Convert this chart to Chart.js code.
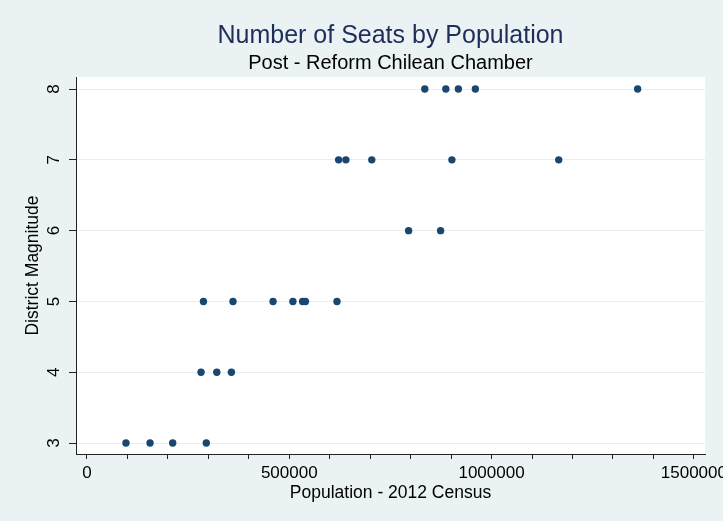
<!DOCTYPE html>
<html>
<head>
<meta charset="utf-8">
<script src="https://cdn.jsdelivr.net/npm/chart.js@4"></script>
<style>
  html, body { margin: 0; padding: 0; background: #eaf2f3; }
  #c { display: block; }
</style>
</head>
<body>
<canvas id="c" width="723" height="521"></canvas>
<script>
// ---- data ----
const chartTitle = "Number of Seats by Population";
const chartSubtitle = "Post - Reform Chilean Chamber";
const xAxisTitle = "Population - 2012 Census";
const yAxisTitle = "District Magnitude";

const population = [
  96500, 156000, 212000, 295000,
  282000, 321000, 357000,
  288000, 361000, 460000, 509000, 533000, 540000, 618000,
  795000, 874000,
  622000, 640000, 704000, 902000, 1166000,
  835000, 887000, 918000, 960000, 1361000
];
const magnitude = [
  3, 3, 3, 3,
  4, 4, 4,
  5, 5, 5, 5, 5, 5, 5,
  6, 6,
  7, 7, 7, 7, 7,
  8, 8, 8, 8, 8
];
const xTicks = [0, 100000, 200000, 300000, 400000, 500000, 600000, 700000, 800000, 900000,
                1000000, 1100000, 1200000, 1300000, 1400000, 1500000];
const xLabelTicks = [0, 500000, 1000000, 1500000];
const yTicks = [3, 4, 5, 6, 7, 8];

const points = population.map((p, i) => ({ x: p, y: magnitude[i] }));

const FONT = "'Liberation Sans', Arial, Helvetica, sans-serif";

const bgPlugin = {
  id: 'bgPlugin',
  beforeDraw(chart) {
    const { ctx, chartArea: a } = chart;
    ctx.save();
    ctx.fillStyle = '#eaf2f3';
    ctx.fillRect(0, 0, chart.width, chart.height);
    ctx.fillStyle = '#ffffff';
    ctx.fillRect(a.left, a.top, a.right - a.left, a.bottom - a.top);
    ctx.restore();
  },
  afterDraw(chart) {
    const { ctx, chartArea: a } = chart;
    const cx = (a.left + a.right) / 2;
    ctx.save();
    ctx.textAlign = 'center';
    ctx.textBaseline = 'alphabetic';
    ctx.fillStyle = '#1e2e58';
    ctx.font = '25px ' + FONT;
    ctx.fillText(chartTitle, cx, 42.5);
    ctx.fillStyle = '#000000';
    ctx.font = '20px ' + FONT;
    ctx.fillText(chartSubtitle, cx, 69);
    ctx.restore();
  }
};

new Chart(document.getElementById('c'), {
  type: 'scatter',
  data: {
    datasets: [{
      data: points,
      backgroundColor: '#1a476f',
      borderColor: '#1a476f',
      borderWidth: 0,
      pointRadius: 3.7,
      pointHoverRadius: 3.7
    }]
  },
  options: {
    responsive: false,
    animation: false,
    devicePixelRatio: 1,
    layout: { padding: { top: 77, right: 18, left: 0, bottom: 0 } },
    plugins: {
      legend: { display: false },
      tooltip: { enabled: false },
      title: { display: false }
    },
    scales: {
      x: {
        type: 'linear',
        min: -27000,
        max: 1527500,
        afterBuildTicks: s => { s.ticks = xTicks.map(v => ({ value: v })); },
        afterFit: s => { s.height = 67; s.paddingRight = 0; s.paddingLeft = 0; },
        ticks: {
          autoSkip: false,
          maxRotation: 0,
          padding: 4,
          color: '#000',
          font: { family: FONT, size: 17 },
          callback: v => (xLabelTicks.includes(v) ? String(v) : '')
        },
        grid: {
          drawOnChartArea: false,
          tickLength: 5,
          tickColor: '#222',
          tickWidth: 1
        },
        border: { display: true, color: '#222', width: 1 },
        title: {
          display: true,
          text: xAxisTitle,
          color: '#000',
          font: { family: FONT, size: 17.5 },
          padding: { top: 0, bottom: 17.5 }
        }
      },
      y: {
        type: 'linear',
        min: 2.845,
        max: 8.17,
        afterBuildTicks: s => { s.ticks = yTicks.map(v => ({ value: v })); },
        afterFit: s => { s.width = 76; s.paddingTop = 0; s.paddingBottom = 0; },
        ticks: {
          autoSkip: false,
          minRotation: 90,
          maxRotation: 90,
          crossAlign: 'center',
          padding: 10,
          color: '#000',
          font: { family: FONT, size: 17 },
          callback: v => String(v)
        },
        grid: {
          color: '#e6eef0',
          lineWidth: 1,
          tickLength: 7,
          tickColor: '#222',
          tickWidth: 1
        },
        border: { display: true, color: '#222', width: 1 },
        title: {
          display: true,
          text: yAxisTitle,
          color: '#000',
          font: { family: FONT, size: 17.5 },
          padding: { top: 22.5, bottom: 0 }
        }
      }
    }
  },
  plugins: [bgPlugin]
});
</script>
</body>
</html>
